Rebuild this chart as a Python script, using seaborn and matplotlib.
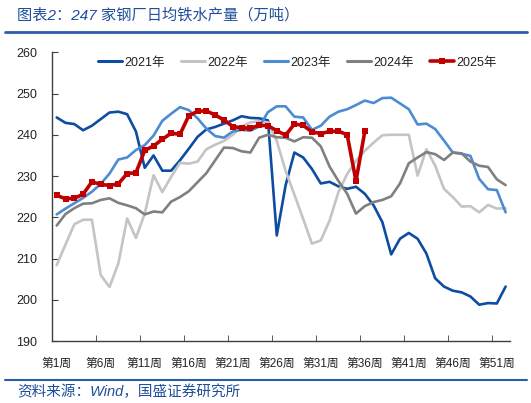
import numpy as np
import pandas as pd
import matplotlib
matplotlib.use('Agg')
import matplotlib.pyplot as plt
import seaborn as sns
from matplotlib.lines import Line2D

# weekly pig iron output of 247 steel mills (10k tonnes / day)
weeks = list(range(1, 53))

y2021 = [244.2, 242.9, 242.6, 241.1, 242.2, 243.8, 245.4, 245.6, 245.0, 240.8,
         232.0, 235.0, 231.3, 231.3, 233.8, 236.6, 239.5, 241.3, 241.9, 242.7,
         243.5, 244.5, 244.1, 244.0, 243.5, 215.6, 227.7, 235.7, 234.5, 231.7,
         228.2, 228.6, 227.5, 226.9, 227.4, 225.7, 222.9, 218.8, 211.0, 214.8,
         216.2, 214.8, 211.2, 205.2, 203.2, 202.2, 201.8, 200.8, 198.8, 199.2,
         199.1, 203.2]
y2022 = [208.4, 213.4, 218.3, 219.4, 219.4, 206.0, 203.1, 208.8, 219.7, 215.0,
         220.9, 230.2, 226.1, 229.8, 233.2, 233.0, 233.5, 236.5, 237.6, 238.5,
         240.0, 242.0, 243.0, 243.3, 243.0, 238.5, 231.3, 225.5, 219.6, 213.6,
         214.4, 219.2, 226.1, 230.5, 233.7, 236.1, 238.1, 239.9, 240.0, 240.0,
         240.0, 230.1, 236.5, 232.5, 226.9, 224.9, 222.6, 222.7, 221.2, 223.0,
         222.1, 222.2]
y2023 = [220.7, 222.1, 223.4, 224.7, 226.2, 228.1, 230.6, 234.0, 234.5, 236.3,
         237.5, 239.8, 243.4, 245.1, 246.7, 246.0, 244.0, 241.5, 239.7, 239.3,
         240.8, 241.2, 241.0, 242.0, 245.5, 246.9, 246.9, 244.4, 244.2, 241.2,
         242.2, 244.4, 245.6, 246.2, 247.2, 248.3, 247.7, 248.9, 249.0, 247.6,
         246.2, 242.5, 242.7, 241.4, 238.6, 235.7, 235.4, 234.9, 229.3, 226.8,
         226.6, 221.2]
y2024 = [218.0, 220.8, 222.2, 223.3, 223.4, 224.2, 224.6, 223.5, 222.9, 222.2,
         220.7, 221.4, 221.2, 223.8, 224.9, 226.3, 228.5, 230.7, 233.8, 236.9,
         236.8, 236.0, 235.7, 239.3, 240.0, 239.4, 239.3, 238.4, 239.4, 239.3,
         237.2, 232.3, 228.8, 225.7, 220.9, 222.7, 223.7, 224.2, 225.1, 228.2,
         233.1, 234.5, 235.8, 235.3, 233.9, 235.7, 235.5, 233.5, 232.5, 232.2,
         229.2, 227.8]
y2025 = [225.3, 224.5, 224.6, 225.6, 228.6, 228.0, 227.7, 228.1, 230.6, 230.8,
         236.2, 237.3, 238.9, 240.4, 240.1, 244.6, 245.7, 245.8, 244.8, 243.6,
         242.0, 241.7, 241.6, 242.3, 242.2, 241.0, 239.9, 242.6, 242.3, 240.7,
         240.3, 240.8, 240.9, 240.0, 228.8, 240.8]

years = ['2021年', '2022年', '2023年', '2024年', '2025年']
colors = ['#0D4DA1', '#C4C4C4', '#4D8BD3', '#808080', '#C00000']
tick_weeks = list(range(1, 53, 5))
tick_labels = ['第%d周' % w for w in tick_weeks]

sns.set_style('ticks')
plt.rcParams['font.family'] = ['Liberation Sans', 'Noto Sans CJK SC']

fig = plt.figure(figsize=(5.31, 4.03), dpi=100)
ax = fig.add_axes([0.0985, 0.1538, 0.862, 0.7164])

series = [y2021, y2022, y2023, y2024]
for name, vals, c in zip(years[:4], series, colors[:4]):
    sns.lineplot(x=weeks, y=vals, color=c, linewidth=1.9, ax=ax, legend=False)
sns.lineplot(x=weeks[:len(y2025)], y=y2025, color=colors[4], linewidth=2.6,
             marker='s', markersize=5, markeredgewidth=0, ax=ax, legend=False)

ax.set_xlim(0.5, 52.5)
ax.set_ylim(190, 260)
ax.set_yticks(range(190, 261, 10))
ax.set_xticks(tick_weeks)
ax.set_xticklabels(tick_labels, fontsize=8.5, color='#222222')
ax.set_xticks(np.arange(5.5, 51, 5), minor=True)
ax.tick_params(axis='x', which='major', length=0, pad=12)
ax.tick_params(axis='x', which='minor', direction='in', length=4, color='#404040')
ax.tick_params(axis='y', direction='in', length=4, color='#404040', labelsize=9,
               pad=11, labelcolor='#222222')
for s in ['top', 'right']:
    ax.spines[s].set_visible(False)
for s in ['left', 'bottom']:
    ax.spines[s].set_color('#404040')
    ax.spines[s].set_linewidth(1.0)
ax.set_xlabel('')
ax.set_ylabel('')

handles = [Line2D([], [], color=c, linewidth=2.2) for c in colors[:4]]
handles.append(Line2D([], [], color=colors[4], linewidth=2.6, marker='s',
                      markersize=4, markeredgewidth=0))
fig.legend(handles, years, loc='center', bbox_to_anchor=(0.56, 0.844),
           ncol=5, frameon=False, fontsize=9, handlelength=1.9,
           handletextpad=0.2, columnspacing=1.3, labelcolor='#222222')

# header and footer
fig.text(0.032, 0.962, '图表2：247 家钢厂日均铁水产量（万吨）', fontsize=11,
         color='#1F4E9A', style='italic', va='center', ha='left')
fig.add_artist(Line2D([0.01, 0.992], [0.921, 0.921], color='#2B5DA8', linewidth=2))
fig.add_artist(Line2D([0.01, 0.992], [0.058, 0.058], color='#2B5DA8', linewidth=1.5))
fig.text(0.032, 0.028, '资料来源：Wind，国盛证券研究所', fontsize=10.5,
         color='#1F4E9A', style='italic', va='center', ha='left')

fig.savefig('out.png', dpi=100)
